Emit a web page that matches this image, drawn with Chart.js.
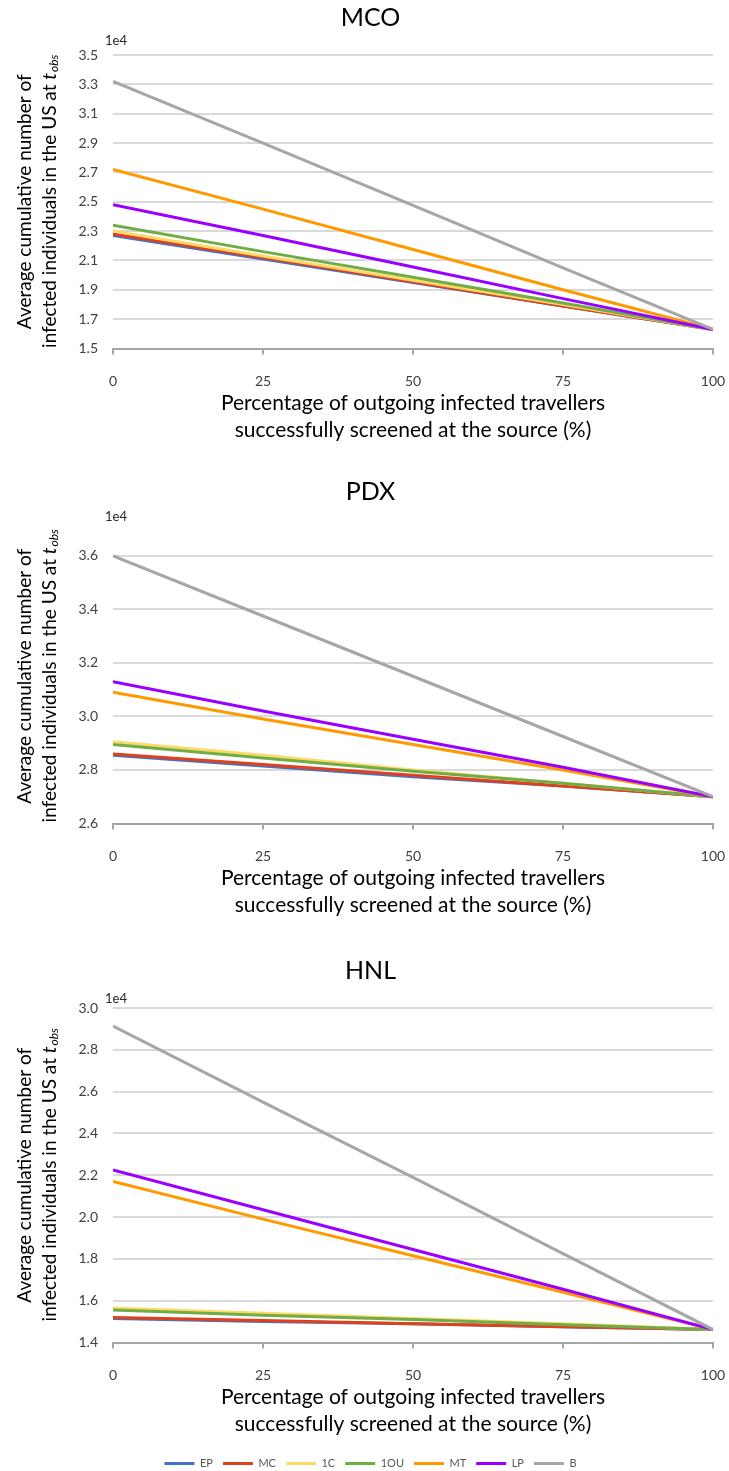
<!DOCTYPE html>
<html>
<head>
<meta charset="utf-8">
<script src="https://cdn.jsdelivr.net/npm/chart.js@4.4.0/dist/chart.umd.min.js"></script>
<style>
  body { margin: 0; background: #fff; overflow: hidden; }
  .box { position: absolute; left: 0; width: 729px; }
</style>
</head>
<body>
<div class="box" style="top:1px;height:447px"><canvas id="mco"></canvas></div>
<div class="box" style="top:475px;height:448px"><canvas id="pdx"></canvas></div>
<div class="box" style="top:954px;height:525px"><canvas id="hnl"></canvas></div>
<script>
// % of outgoing infected travellers screened at the source
const screened = [0, 25, 50, 75, 100];
const xTicks = [0, 25, 50, 75, 100];

const seriesNames = ['EP', 'MC', '1C', '1OU', 'MT', 'LP', 'B'];
const seriesColors = ['#4472C4', '#E0411B', '#FFD966', '#70AD47', '#FF9900', '#9A00FF', '#A6A6A6'];

// cumulative infected, in units of 1e4, rows follow seriesNames
const mcoValues = [
  [2.27, 2.11, 1.95, 1.79, 1.63],
  [2.28, 2.12, 1.955, 1.79, 1.63],
  [2.30, 2.13, 1.965, 1.80, 1.63],
  [2.34, 2.16, 1.985, 1.81, 1.63],
  [2.72, 2.45, 2.175, 1.90, 1.63],
  [2.48, 2.27, 2.055, 1.84, 1.63],
  [3.32, 2.90, 2.475, 2.05, 1.63]
];
const pdxValues = [
  [2.855, 2.815, 2.775, 2.74, 2.70],
  [2.86, 2.82, 2.78, 2.74, 2.70],
  [2.905, 2.855, 2.80, 2.75, 2.70],
  [2.895, 2.845, 2.795, 2.75, 2.70],
  [3.09, 2.99, 2.895, 2.80, 2.70],
  [3.13, 3.02, 2.915, 2.81, 2.70],
  [3.60, 3.375, 3.15, 2.925, 2.70]
];
const hnlValues = [
  [1.515, 1.50, 1.49, 1.475, 1.462],
  [1.52, 1.505, 1.49, 1.475, 1.462],
  [1.565, 1.54, 1.515, 1.49, 1.462],
  [1.555, 1.53, 1.51, 1.485, 1.462],
  [2.17, 1.99, 1.815, 1.64, 1.462],
  [2.225, 2.035, 1.845, 1.655, 1.462],
  [2.914, 2.55, 2.19, 1.825, 1.462]
];

const mcoTicks = [1.5, 1.7, 1.9, 2.1, 2.3, 2.5, 2.7, 2.9, 3.1, 3.3, 3.5];
const pdxTicks = [2.6, 2.8, 3.0, 3.2, 3.4, 3.6];
const hnlTicks = [1.4, 1.6, 1.8, 2.0, 2.2, 2.4, 2.6, 2.8, 3.0];

const yTitleTop = 'Average cumulative number of';
const yTitleBottom = 'infected individuals in the US at ';
const xTitle = ['Percentage of outgoing infected travellers', 'successfully screened at the source (%)'];

const FONT = 'Lato, "Open Sans", sans-serif';

// rotated two-line y title (with italic t_obs) and the 1e4 multiplier
const sideText = {
  id: 'sideText',
  afterDraw(chart, args, opts) {
    const { ctx, chartArea } = chart;
    const midY = (chartArea.top + chartArea.bottom) / 2;
    ctx.save();
    ctx.fillStyle = '#262626';
    ctx.font = '13px ' + FONT;
    ctx.textAlign = 'left';
    ctx.textBaseline = 'middle';
    ctx.fillText('1e4', chartArea.left - 8, chartArea.top - opts.expGap);

    ctx.fillStyle = '#000';
    ctx.translate(37.5, midY);
    ctx.rotate(-Math.PI / 2);
    ctx.font = '19px ' + FONT;
    ctx.textAlign = 'center';
    ctx.fillText(yTitleTop, 0, -12.5);

    ctx.textAlign = 'left';
    const w1 = ctx.measureText(yTitleBottom).width;
    ctx.font = 'italic 19px ' + FONT;
    const w2 = ctx.measureText('t').width;
    ctx.font = 'italic 12px ' + FONT;
    const w3 = ctx.measureText('obs').width;
    let u = -(w1 + w2 + w3) / 2;
    ctx.font = '19px ' + FONT;
    ctx.fillText(yTitleBottom, u, 12.5);
    u += w1;
    ctx.font = 'italic 19px ' + FONT;
    ctx.fillText('t', u, 12.5);
    u += w2 + 1;
    ctx.font = 'italic 12px ' + FONT;
    ctx.fillText('obs', u, 17);
    ctx.restore();
  }
};

function makeChart(id, title, values, yTicks, yMin, yMax, expGap, showLegend) {
  const datasets = seriesNames.map((name, i) => ({
    label: name,
    data: screened.map((x, j) => ({ x: x, y: values[i][j] })),
    borderColor: seriesColors[i],
    backgroundColor: seriesColors[i],
    borderWidth: 3,
    pointRadius: 0,
    tension: 0,
    order: -i
  }));

  // x axis box height and gap under the axis title
  const xHeight = showLegend ? 105.5 : 99.5;
  const xTitleBottom = showLegend ? 10 : 4;

  return new Chart(document.getElementById(id), {
    type: 'line',
    data: { datasets: datasets },
    plugins: [sideText],
    options: {
      responsive: true,
      maintainAspectRatio: false,
      animation: false,
      layout: { padding: { left: 28, right: 16, top: 0, bottom: 0 } },
      plugins: {
        sideText: { expGap: expGap },
        tooltip: { enabled: false },
        title: {
          display: true,
          text: title,
          color: '#000',
          font: { family: FONT, size: 25, weight: 'normal', lineHeight: 1.2 },
          padding: { top: 2, bottom: 22 }
        },
        legend: {
          display: showLegend,
          position: 'bottom',
          labels: {
            usePointStyle: true,
            pointStyle: 'line',
            pointStyleWidth: 30,
            padding: 10,
            color: '#595959',
            font: { family: FONT, size: 11 },
            sort: (a, b) => a.datasetIndex - b.datasetIndex
          }
        }
      },
      scales: {
        x: {
          type: 'linear',
          min: 0,
          max: 100,
          afterBuildTicks: (scale) => { scale.ticks = xTicks.map(v => ({ value: v })); },
          afterFit: (scale) => {
            scale.height = xHeight;
            scale.paddingLeft = 0;
            scale.paddingRight = 0;
          },
          ticks: {
            color: '#404040',
            padding: 19,
            maxRotation: 0,
            font: { family: FONT, size: 14 },
            callback: (v) => String(v)
          },
          grid: {
            drawOnChartArea: false,
            drawTicks: true,
            tickLength: 6,
            color: '#A6A6A6',
            lineWidth: 2
          },
          border: { display: true, color: '#A6A6A6', width: 2 },
          title: {
            display: true,
            text: xTitle,
            color: '#000',
            font: { family: FONT, size: 21, lineHeight: '27px' },
            padding: { top: 10, bottom: xTitleBottom }
          }
        },
        y: {
          min: yMin,
          max: yMax,
          afterFit: (scale) => { scale.width = 85; },
          afterBuildTicks: (scale) => { scale.ticks = yTicks.map(v => ({ value: v })); },
          ticks: {
            color: '#404040',
            padding: 15,
            font: { family: FONT, size: 14 },
            callback: (v) => v.toFixed(1)
          },
          grid: { color: '#D9D9D9', lineWidth: 2, drawTicks: false },
          border: { display: false }
        }
      }
    }
  });
}

makeChart('mco', 'MCO', mcoValues, mcoTicks, 1.5, 3.5, 14, false);
makeChart('pdx', 'PDX', pdxValues, pdxTicks, 2.6, 3.7, 12, false);
makeChart('hnl', 'HNL', hnlValues, hnlTicks, 1.4, 3.0, 9, true);
</script>
</body>
</html>
